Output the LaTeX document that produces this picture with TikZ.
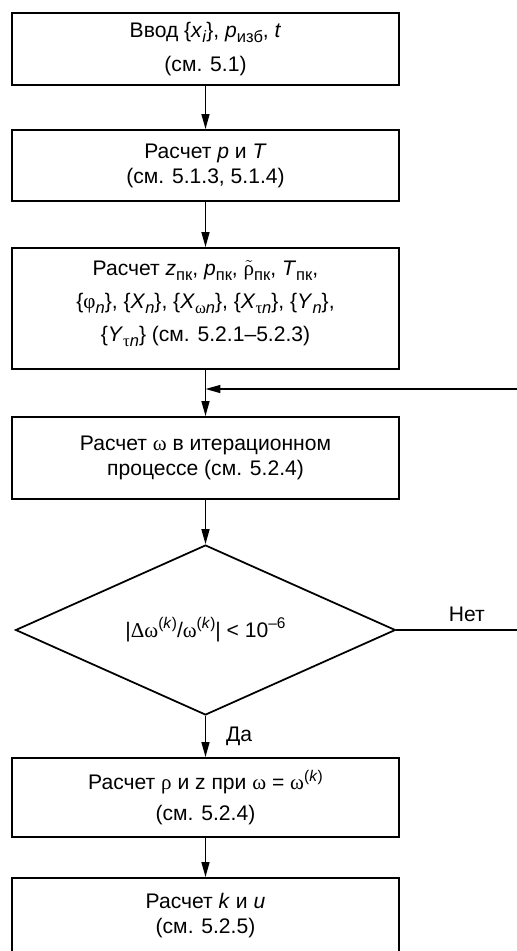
\documentclass[tikz,border=0pt]{standalone}
\usepackage{fontspec}
\setmainfont{Liberation Sans}
\newfontfamily\grk{Liberation Serif}
\usetikzlibrary{arrows.meta, shapes.geometric}

\newcommand{\sbs}[1]{\raisebox{-0.45ex}{\fontsize{9.4}{9}\selectfont #1}}
\newcommand{\sps}[1]{\raisebox{0.8ex}{\fontsize{8.8}{9}\selectfont #1}}
\newcommand{\gr}[1]{{\grk #1}}

\tikzset{
  block/.style={draw, line width=1.1pt, minimum width=7.74cm, inner sep=0pt, align=center,
    font=\fontsize{12}{14.2}\selectfont},
  test/.style={draw, diamond, line width=1pt, minimum width=7.6cm, minimum height=3.4cm,
    aspect=2.2, inner sep=0pt, font=\fontsize{12}{14.2}\selectfont},
  arr/.style={line width=0.8pt, -{Triangle[length=0.3cm,width=0.16cm]}},
  lbl/.style={font=\fontsize{12}{14.2}\selectfont}
}

\begin{document}
\begin{tikzpicture}[x=0.02cm, y=-0.02cm]
\useasboundingbox (0,0) rectangle (517,951);
\clip (0,0) rectangle (517,951);

% Input
\node[block, minimum height=1.44cm] (input) at (205.5,49)
  {Ввод \{\textit{x}\sbs{\textit{i}}\}, \textit{p}\sbs{изб}, \textit{t}\\[5pt](см. 5.1)};

% Pressure and temperature
\node[block, minimum height=1.42cm] (pt) at (205.5,165.5)
  {Расчет \textit{p} и \textit{T}\\(см. 5.1.3, 5.1.4)};

% Pseudocritical parameters
\node[block, minimum height=2.42cm] (pseudo) at (205.5,308.5)
  {Расчет \textit{z}\sbs{пк}, \textit{p}\sbs{пк}, $\tilde{\hbox{\grk ρ}}$\sbs{пк}, \textit{T}\sbs{пк},\\[4.6pt]
   \{\gr{φ}\sbs{\textit{n}}\}, \{\textit{X}\sbs{\textit{n}}\}, \{\textit{X}\sbs{\gr{ω}\textit{n}}\},
   \{\textit{X}\sbs{\gr{τ}\textit{n}}\}, \{\textit{Y}\sbs{\textit{n}}\},\\[4.6pt]
   \{\textit{Y}\sbs{\gr{τ}\textit{n}}\} (см. 5.2.1--5.2.3)\rule[-8.5pt]{0pt}{1pt}};

% Iteration
\node[block, minimum height=1.64cm] (iter) at (205.5,458)
  {Расчет \gr{ω} в итерационном\\процессе (см. 5.2.4)};

% Convergence test
\node[test] (check) at (205.5,630)
  {|\gr{Δω}\sps{(\textit{k})}/\gr{ω}\sps{(\textit{k})}| < 10\sps{--6}};

% Density and compressibility
\node[block, minimum height=1.58cm] (dens) at (205.5,797.5)
  {Расчет \gr{ρ} и z при \gr{ω} = \gr{ω}\sps{(\textit{k})}\\[3.4pt](см. 5.2.4)};

% k and u
\node[block, minimum height=1.5cm] (ku) at (205.5,915.5)
  {Расчет \textit{k} и \textit{u}\\(см. 5.2.5)};

% Connectors
\coordinate (merge) at (205.5,389);
\coordinate (back) at (540,630);
\draw[arr] (input) -- (pt);
\draw[arr] (pt) -- (pseudo);
\draw[arr] (pseudo) -- (iter);
\draw[arr] (iter) -- (check);
\draw[arr] (check) -- node[lbl, right=8pt] {Да} (dens);
\draw[arr] (dens) -- (ku);
\draw[arr] (check.east) -- node[lbl, above=1pt, pos=0.49] {Нет} (back) |- (merge);
\end{tikzpicture}
\end{document}
